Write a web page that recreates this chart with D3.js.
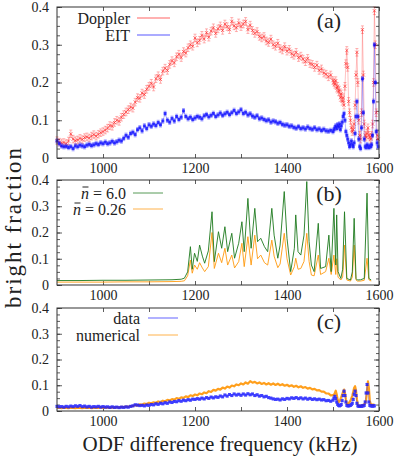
<!DOCTYPE html>
<html><head><meta charset="utf-8">
<script src="https://cdn.jsdelivr.net/npm/d3@7"></script>
<style>body{margin:0;background:#fff}svg{display:block}text{font-family:'Liberation Serif','DejaVu Serif','Times New Roman',serif;fill:#222}</style>
</head><body><svg id="c" width="395" height="456"></svg>
<script>
// ---------- data ----------
const freqA = d3.range(900,1501,5).concat(d3.range(1502,1599,2));
const dopplerA = [
0.046,0.042,0.040,0.041,0.038,0.045,0.064,0.050,0.046,0.048,
0.052,0.049,0.054,0.056,0.053,0.058,0.062,0.058,0.063,0.067,
0.070,0.074,0.079,0.086,0.084,0.094,0.100,0.097,0.108,0.115,
0.122,0.128,0.135,0.132,0.148,0.160,0.158,0.172,0.168,0.182,
0.190,0.198,0.188,0.210,0.218,0.208,0.230,0.238,0.232,0.248,
0.258,0.252,0.268,0.275,0.266,0.282,0.278,0.292,0.300,0.296,
0.318,0.305,0.312,0.325,0.315,0.332,0.320,0.336,0.345,0.330,
0.342,0.350,0.338,0.355,0.348,0.340,0.362,0.350,0.345,0.358,
0.348,0.355,0.362,0.340,0.352,0.338,0.330,0.335,0.322,0.318,
0.322,0.310,0.306,0.315,0.300,0.296,0.304,0.290,0.286,0.295,
0.283,0.288,0.276,0.272,0.280,0.266,0.270,0.262,0.255,0.264,
0.250,0.248,0.240,0.246,0.232,0.236,0.225,0.222,0.215,0.220,
0.205,
0.200,0.195,0.205,0.185,0.190,0.175,0.180,0.160,0.170,0.150,
0.160,0.140,0.190,0.250,0.285,0.240,0.150,0.120,0.100,0.080,
0.070,0.075,0.090,0.140,0.220,0.280,0.200,0.100,0.060,0.050,
0.120,0.340,0.220,0.090,0.060,0.055,0.065,0.080,0.060,0.055,
0.050,0.060,0.090,0.200,0.390,0.300,0.120,0.060,0.050];
const eitA = [
0.045,0.038,0.032,0.030,0.031,0.028,0.030,0.025,0.032,0.030,
0.034,0.032,0.030,0.034,0.036,0.033,0.035,0.038,0.036,0.040,
0.038,0.042,0.038,0.040,0.044,0.040,0.043,0.047,0.045,0.052,
0.060,0.055,0.065,0.068,0.062,0.075,0.080,0.072,0.085,0.078,
0.088,0.084,0.090,0.086,0.094,0.088,0.098,0.118,0.100,0.095,
0.105,0.098,0.110,0.102,0.108,0.125,0.110,0.104,0.108,0.102,
0.106,0.110,0.108,0.104,0.112,0.115,0.109,0.113,0.118,0.110,
0.114,0.119,0.113,0.117,0.121,0.115,0.120,0.126,0.118,0.122,
0.128,0.118,0.121,0.114,0.117,0.111,0.108,0.112,0.104,0.106,
0.102,0.099,0.101,0.095,0.098,0.096,0.092,0.094,0.089,0.087,
0.088,0.084,0.085,0.081,0.079,0.083,0.078,0.080,0.077,0.082,
0.078,0.076,0.080,0.075,0.077,0.073,0.076,0.072,0.071,0.073,
0.070,
0.075,0.080,0.085,0.078,0.088,0.082,0.090,0.075,0.085,0.095,
0.110,0.118,0.100,0.070,0.060,0.050,0.040,0.030,0.035,0.045,
0.035,0.030,0.040,0.065,0.110,0.150,0.110,0.050,0.030,0.025,
0.080,0.210,0.120,0.050,0.030,0.028,0.035,0.030,0.028,0.032,
0.030,0.035,0.060,0.150,0.300,0.200,0.070,0.040,0.030];
const errDoppler = 0.010, errEIT = 0.006;

const freqB = [900,950,1000,1050,1100,1150,1170,1177,1184,1190,1194,1199,1205,1210,1216,1221,1229,
1237,1242,1251,1258,1265,1271,1280,1286,1295,1302,1307,1315,1322,1330,1336,1343,1351,1358,1367,1372,
1380,1385,1394,1400,1408,1416,1419,1424,1430,1437,1443,1448,1453,1459,1468,1473,1484,1491,1496,1502,
1506,1508,1511,1517,1521,1525,1530,1538,1542,1546,1550,1553,1560,1568,1574,1578,1583];
const nbar60B = [0.017,0.017,0.018,0.018,0.019,0.020,0.022,0.026,0.050,0.146,0.060,0.121,0.090,0.152,0.110,0.083,0.130,
0.279,0.089,0.203,0.140,0.222,0.127,0.197,0.102,0.159,0.241,0.127,0.330,0.140,0.292,0.165,0.178,0.146,0.127,0.292,0.190,
0.102,0.152,0.356,0.178,0.051,0.140,0.267,0.127,0.114,0.190,0.394,0.165,0.076,0.051,0.235,0.063,0.070,0.190,0.051,0.292,
0.076,0.267,0.051,0.025,0.060,0.279,0.025,0.019,0.050,0.254,0.025,0.019,0.020,0.025,0.350,0.025,0.019];
const nbar026B = [0.011,0.011,0.011,0.012,0.012,0.013,0.014,0.016,0.035,0.095,0.045,0.076,0.060,0.085,0.065,0.051,0.070,
0.200,0.063,0.121,0.085,0.140,0.076,0.114,0.065,0.089,0.159,0.070,0.184,0.076,0.190,0.100,0.114,0.085,0.076,0.171,0.110,
0.066,0.080,0.197,0.100,0.038,0.070,0.102,0.060,0.063,0.090,0.197,0.090,0.038,0.035,0.114,0.040,0.051,0.102,0.040,0.114,
0.040,0.100,0.030,0.019,0.030,0.152,0.019,0.015,0.030,0.152,0.019,0.015,0.015,0.018,0.102,0.020,0.015];

const freqC = d3.range(900,1501,5).concat(d3.range(1502,1591,2));
const numericalC = [
0.012,0.013,0.011,0.013,0.012,0.011,0.013,0.012,0.011,0.013,
0.012,0.011,0.013,0.012,0.013,0.011,0.012,0.013,0.012,0.014,
0.012,0.014,0.013,0.012,0.014,0.013,0.015,0.013,0.016,0.015,
0.017,0.016,0.019,0.019,0.023,0.021,0.026,0.024,0.029,0.027,
0.032,0.030,0.034,0.032,0.037,0.035,0.040,0.038,0.043,0.041,
0.046,0.044,0.050,0.047,0.053,0.051,0.057,0.054,0.061,0.058,
0.064,0.061,0.068,0.065,0.072,0.069,0.077,0.074,0.082,0.079,
0.086,0.083,0.091,0.087,0.095,0.091,0.099,0.096,0.103,0.100,
0.107,0.103,0.111,0.106,0.116,0.110,0.113,0.107,0.111,0.105,
0.109,0.103,0.108,0.102,0.107,0.101,0.106,0.100,0.104,0.098,
0.102,0.096,0.100,0.094,0.098,0.092,0.096,0.090,0.093,0.087,
0.090,0.084,0.086,0.080,0.081,0.075,0.075,0.068,0.068,0.061,
0.062,
0.062,0.070,0.079,0.065,0.045,0.034,0.038,0.045,0.055,0.065,
0.075,0.083,0.070,0.045,0.030,0.027,0.030,0.035,0.040,0.050,
0.060,0.075,0.090,0.096,0.080,0.045,0.025,0.020,0.020,0.020,
0.022,0.022,0.024,0.026,0.030,0.045,0.080,0.115,0.090,0.040,
0.027,0.025,0.025,0.025,0.024];
const dataC = [
0.018,0.016,0.017,0.015,0.018,0.016,0.019,0.017,0.020,0.018,
0.021,0.017,0.019,0.016,0.018,0.015,0.017,0.016,0.018,0.015,
0.017,0.015,0.016,0.014,0.016,0.014,0.015,0.013,0.015,0.014,
0.016,0.015,0.018,0.020,0.024,0.023,0.021,0.022,0.020,0.023,
0.022,0.025,0.024,0.028,0.026,0.030,0.028,0.032,0.030,0.035,
0.033,0.037,0.036,0.040,0.038,0.042,0.040,0.044,0.042,0.046,
0.045,0.048,0.046,0.050,0.047,0.052,0.049,0.054,0.051,0.055,
0.053,0.058,0.055,0.062,0.058,0.064,0.060,0.066,0.062,0.065,
0.061,0.066,0.062,0.067,0.063,0.066,0.060,0.063,0.058,0.060,
0.055,0.057,0.052,0.050,0.047,0.045,0.046,0.043,0.047,0.045,
0.049,0.047,0.051,0.049,0.052,0.048,0.051,0.047,0.050,0.046,
0.049,0.045,0.047,0.044,0.046,0.043,0.044,0.040,0.041,0.038,
0.042,
0.050,0.057,0.048,0.035,0.026,0.022,0.020,0.022,0.025,0.040,
0.060,0.077,0.060,0.035,0.022,0.020,0.020,0.021,0.022,0.025,
0.030,0.045,0.065,0.077,0.060,0.030,0.020,0.018,0.018,0.019,
0.018,0.020,0.020,0.022,0.035,0.070,0.103,0.070,0.035,0.022,
0.020,0.020,0.019,0.020,0.020];
const errData = 0.004;

const xTicks = [1000,1200,1400,1600];
const yTicks = [0,0.1,0.2,0.3,0.4];

// ---------- drawing ----------
const svg = d3.select("#c");
const FONT = "'Liberation Serif','DejaVu Serif','Times New Roman',serif";
const x = d3.scaleLinear().domain([900,1600]).range([57,379]);
const boxes = {a:[158,7], b:[285,180], c:[411,308]};
const INK = "#333";

function panel(key, tag){
  const [y0,y1] = boxes[key];
  const y = d3.scaleLinear().domain([0,0.4]).range([y0,y1]);
  const g = svg.append("g");
  const style = s => s.call(a=>a.select(".domain").remove())
      .call(a=>a.selectAll("line").attr("stroke",INK).attr("stroke-width",0.8))
      .attr("font-family",FONT).attr("font-size",14);
  g.append("g").attr("transform",`translate(0,${y0})`)
    .call(d3.axisBottom(x).tickValues(d3.range(1000,1601,100)).tickSize(-4).tickFormat("")).call(style);
  g.append("g").attr("transform",`translate(0,${y1})`)
    .call(d3.axisTop(x).tickValues(d3.range(1000,1601,100)).tickSize(-4).tickFormat("")).call(style);
  g.append("g").attr("transform",`translate(0,${y0})`)
    .call(d3.axisBottom(x).tickValues(xTicks).tickSize(0).tickPadding(5).tickFormat(d3.format("d"))).call(style)
    .selectAll("text").attr("fill","#222");
  const minor = d3.range(0,0.4001,0.025);
  g.append("g").attr("transform",`translate(57,0)`)
    .call(d3.axisLeft(y).tickValues(minor).tickSize(-3).tickFormat("")).call(style);
  g.append("g").attr("transform",`translate(379,0)`)
    .call(d3.axisRight(y).tickValues(minor).tickSize(-3).tickFormat("")).call(style);
  g.append("g").attr("transform",`translate(57,0)`)
    .call(d3.axisLeft(y).tickValues(yTicks).tickSize(-5).tickPadding(8).tickFormat(d=>d===0?"0":d.toFixed(1))).call(style)
    .selectAll("text").attr("fill","#222");
  g.append("g").attr("transform",`translate(379,0)`)
    .call(d3.axisRight(y).tickValues(yTicks).tickSize(-5).tickFormat("")).call(style);
  const plot = g.append("g");
  g.append("rect").attr("x",57).attr("y",y1).attr("width",379-57).attr("height",y0-y1)
    .attr("fill","none").attr("stroke",INK).attr("stroke-width",1);
  g.append("text").attr("x",329).attr("y",y1+13).attr("text-anchor","middle")
    .attr("dominant-baseline","central").attr("font-size",22).text(tag);
  return {plot,y,g};
}

function errSeries(p, xs, vs, err, color, marker){
  const y = p.y;
  const pts = xs.map((f,i)=>({f,v:vs[i]}));
  p.plot.append("path").datum(pts).attr("fill","none").attr("stroke",color)
    .attr("stroke-width",0.6).attr("opacity",0.45)
    .attr("d",d3.line().x(d=>x(d.f)).y(d=>y(d.v)));
  const eb = p.plot.append("g").attr("stroke",color).attr("stroke-width",0.6).attr("opacity",0.55);
  pts.forEach(d=>{
    const X=x(d.f), a=y(d.v-err), b=y(d.v+err);
    eb.append("line").attr("x1",X).attr("x2",X).attr("y1",a).attr("y2",b);
    eb.append("line").attr("x1",X-1.5).attr("x2",X+1.5).attr("y1",a).attr("y2",a);
    eb.append("line").attr("x1",X-1.5).attr("x2",X+1.5).attr("y1",b).attr("y2",b);
  });
  const mk = p.plot.append("g").attr("opacity",0.75);
  pts.forEach(d=>{
    const X=x(d.f), Y=y(d.v);
    if(marker==="cross"){
      mk.append("path").attr("d",`M${X-1.6},${Y-1.6}L${X+1.6},${Y+1.6}M${X-1.6},${Y+1.6}L${X+1.6},${Y-1.6}`)
        .attr("stroke",color).attr("stroke-width",0.8);
    } else {
      mk.append("rect").attr("x",X-1.5).attr("y",Y-1.5).attr("width",3).attr("height",3).attr("fill",color);
    }
  });
}

function lineSeries(p, xs, vs, color, w, op){
  const pts = xs.map((f,i)=>({f,v:vs[i]}));
  p.plot.append("path").datum(pts).attr("fill","none").attr("stroke",color)
    .attr("stroke-width",w).attr("opacity",op).attr("stroke-linejoin","round")
    .attr("d",d3.line().x(d=>x(d.f)).y(d=>p.y(d.v)));
}

function legend(p, items, xr, y0, dy, x1, x2){
  items.forEach((it,i)=>{
    const yy = y0 + i*dy;
    const t = p.g.append("text").attr("x",xr).attr("y",yy).attr("text-anchor","end")
      .attr("dominant-baseline","central").attr("font-size",16);
    if(it.nbar){
      t.append("tspan").attr("font-style","italic").text("n");
      t.append("tspan").text(" = "+it.nbar);
      const r = t.node().getExtentOfChar(0);
      p.g.append("line").attr("x1",r.x+1.5).attr("x2",r.x+r.width-0.5)
        .attr("y1",yy-6).attr("y2",yy-6).attr("stroke","#222").attr("stroke-width",1);
    } else t.text(it.label);
    p.g.append("line").attr("x1",x1).attr("x2",x2).attr("y1",yy).attr("y2",yy)
      .attr("stroke",it.color).attr("stroke-width",1).attr("opacity",0.75);
  });
}

// (a)
const pa = panel("a","(a)");
errSeries(pa, freqA, dopplerA, errDoppler, "#ff1a1a", "cross");
errSeries(pa, freqA, eitA, errEIT, "#0000ff", "square");
legend(pa, [{label:"Doppler",color:"#ff3030"},{label:"EIT",color:"#2020ff"}], 130, 18, 17, 137, 170);

// (b)
const pb = panel("b","(b)");
lineSeries(pb, freqB, nbar026B, "#ff9a10", 1, 0.9);
lineSeries(pb, freqB, nbar60B, "#1e7a1e", 1, 0.9);
legend(pb, [{nbar:"6.0",color:"#1e7a1e"},{nbar:"0.26",color:"#ff9a10"}], 126, 193, 16, 133, 163);

// (c)
const pc = panel("c","(c)");
lineSeries(pc, freqC, numericalC, "#ff9a10", 2.2, 0.95);
errSeries(pc, freqC, dataC, errData, "#1a1aff", "square");
legend(pc, [{label:"data",color:"#3030ff"},{label:"numerical",color:"#ff9a10"}], 140, 318, 17, 148, 178);

// axis titles
svg.append("text").attr("transform","translate(13,228) rotate(-90)").attr("text-anchor","middle")
  .attr("dominant-baseline","central").attr("font-size",23)
  .attr("textLength",160).attr("lengthAdjust","spacing").text("bright fraction");
svg.append("text").attr("x",220).attr("y",444).attr("text-anchor","middle")
  .attr("dominant-baseline","central").attr("font-size",21)
  .attr("textLength",275).attr("lengthAdjust","spacing").text("ODF difference frequency (kHz)");
</script></body></html>
